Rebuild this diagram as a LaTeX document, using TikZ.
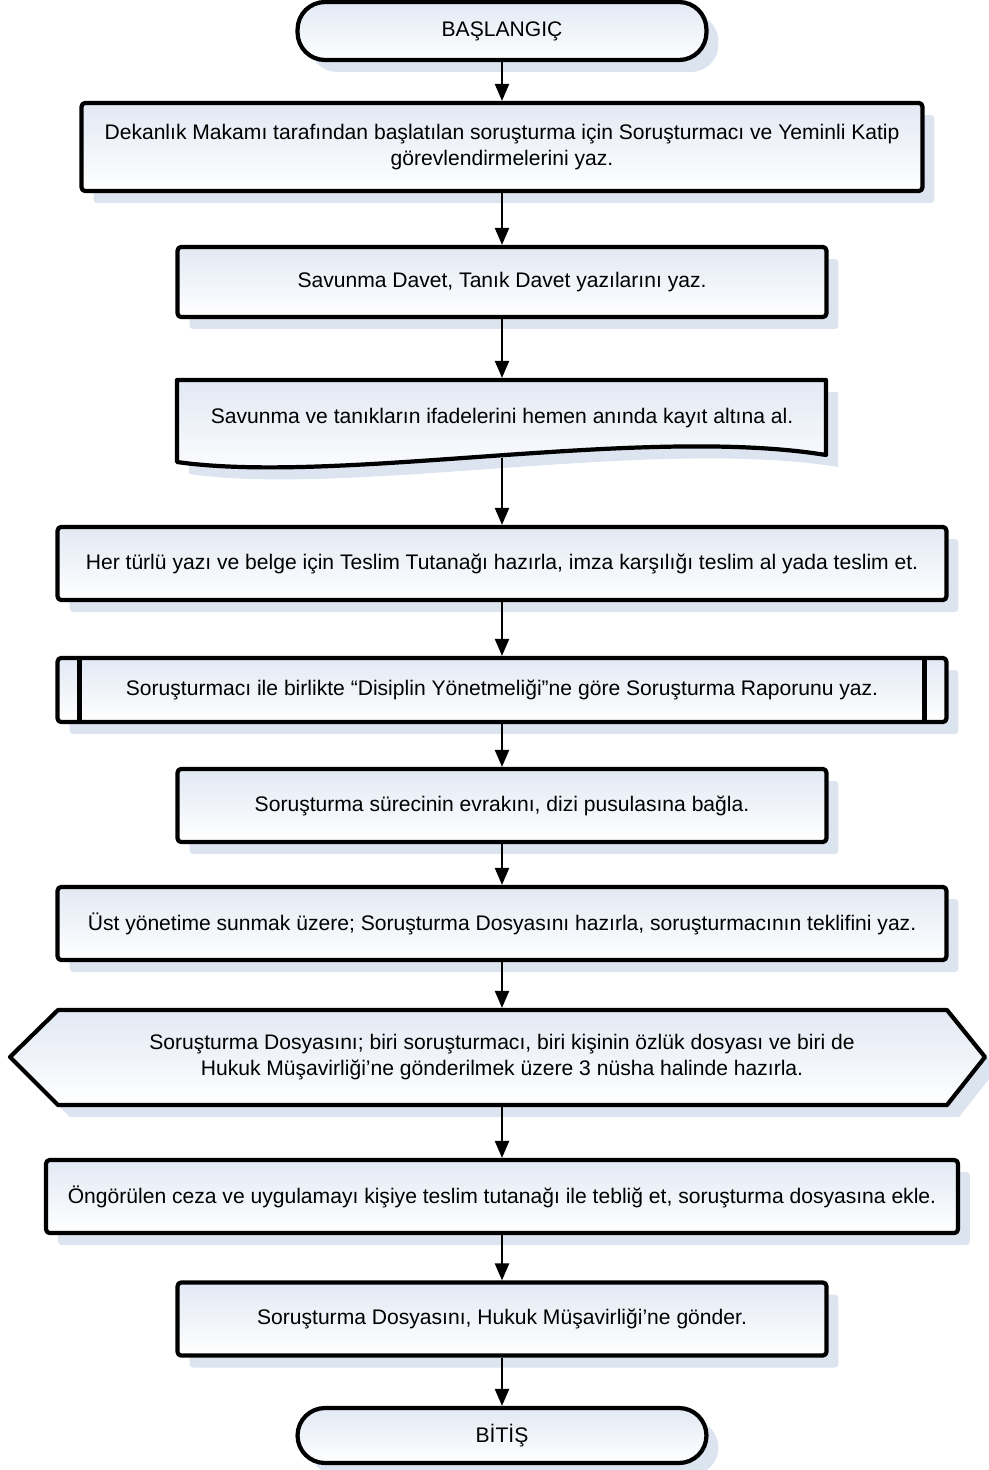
\documentclass[tikz,border=0pt]{standalone}
\usepackage{fontspec}
\setmainfont{Liberation Sans}
\usetikzlibrary{arrows.meta,shadows}
\definecolor{boxtop}{RGB}{226,233,244}
\definecolor{shadowblue}{RGB}{220,228,240}
\begin{document}
\begin{tikzpicture}[x=0.02cm,y=-0.02cm,
    every node/.style={font=\fontsize{12}{14.5}\selectfont, align=center},
    shadowed/.style={drop shadow={shadow xshift=0.24cm, shadow yshift=-0.24cm, fill=shadowblue, opacity=1}},
    shapeline/.style={line width=2.4pt, line join=round, top color=boxtop, bottom color=white, shadowed},
    procbox/.style={draw, shapeline, rounded corners=2pt, inner sep=0pt},
    terminal/.style={procbox, rounded corners=0.55cm},
    arr/.style={line width=1.3pt, -{Triangle[length=0.34cm, width=0.28cm]}}]
    \useasboundingbox (0,0) rectangle (989,1470);
    \node[terminal, minimum width=8.18cm, minimum height=1.16cm] (start) at (502,31) {BAŞLANGIÇ};
    \node[procbox, minimum width=16.82cm, minimum height=1.76cm] (gorev) at (502,147)
        {Dekanlık Makamı tarafından başlatılan soruşturma için Soruşturmacı ve Yeminli Katip\\görevlendirmelerini yaz.};
    \node[procbox, minimum width=12.98cm, minimum height=1.4cm] (davet) at (502,282) {Savunma Davet, Tanık Davet yazılarını yaz.};
    % belge sekli
    \draw[shapeline] (177,380) -- (826,380) -- (826,455) .. controls (640,425) and (340,485) .. (177,462) -- cycle;
    \node[minimum width=12.98cm, minimum height=1.52cm, outer sep=1.2pt] (ifade) at (502,418)
        {Savunma ve tanıkların ifadelerini hemen anında kayıt altına al.};
    \node[procbox, minimum width=17.78cm, minimum height=1.46cm] (teslim) at (502,563.5)
        {Her türlü yazı ve belge için Teslim Tutanağı hazırla, imza karşılığı teslim al yada teslim et.};
    \node[procbox, minimum width=17.78cm, minimum height=1.28cm] (rapor) at (502,690)
        {Soruşturmacı ile birlikte “Disiplin Yönetmeliği”ne göre Soruşturma Raporunu yaz.};
    \draw[line width=2.4pt] ([xshift=0.48cm]rapor.north west) -- ([xshift=0.48cm]rapor.south west);
    \draw[line width=2.4pt] ([xshift=-0.48cm]rapor.north east) -- ([xshift=-0.48cm]rapor.south east);
    \node[procbox, minimum width=12.98cm, minimum height=1.46cm] (dizi) at (502,805.5)
        {Soruşturma sürecinin evrakını, dizi pusulasına bağla.};
    \node[procbox, minimum width=17.78cm, minimum height=1.46cm] (teklif) at (502,923.5)
        {Üst yönetime sunmak üzere; Soruşturma Dosyasını hazırla, soruşturmacının teklifini yaz.};
    % hazirlik sekli
    \draw[shapeline] (58,1010) -- (947,1010) -- (985,1057) -- (947,1105) -- (58,1105) -- (10,1057) -- cycle;
    \node[minimum width=17.78cm, minimum height=1.9cm, outer sep=1.2pt] (nusha) at (502,1057.5)
        {\raisebox{-0.1cm}{\begin{tabular}{@{}c@{}}Soruşturma Dosyasını; biri soruşturmacı, biri kişinin özlük dosyası ve biri de\\Hukuk Müşavirliği’ne gönderilmek üzere 3 nüsha halinde hazırla.\end{tabular}}};
    \node[procbox, minimum width=18.24cm, minimum height=1.46cm] (teblig) at (502,1196.5)
        {Öngörülen ceza ve uygulamayı kişiye teslim tutanağı ile tebliğ et, soruşturma dosyasına ekle.};
    \node[procbox, minimum width=12.98cm, minimum height=1.46cm] (gonder) at (502,1319)
        {Soruşturma Dosyasını, Hukuk Müşavirliği’ne gönder.};
    \node[terminal, minimum width=8.18cm, minimum height=1.1cm] (bitis) at (502,1435.5) {BİTİŞ};
    \foreach \a/\b in {start/gorev, gorev/davet, davet/ifade, ifade/teslim, teslim/rapor, rapor/dizi,
        dizi/teklif, teklif/nusha, nusha/teblig, teblig/gonder, gonder/bitis}
        \draw[arr] (\a) -- (\b);
\end{tikzpicture}
\end{document}
